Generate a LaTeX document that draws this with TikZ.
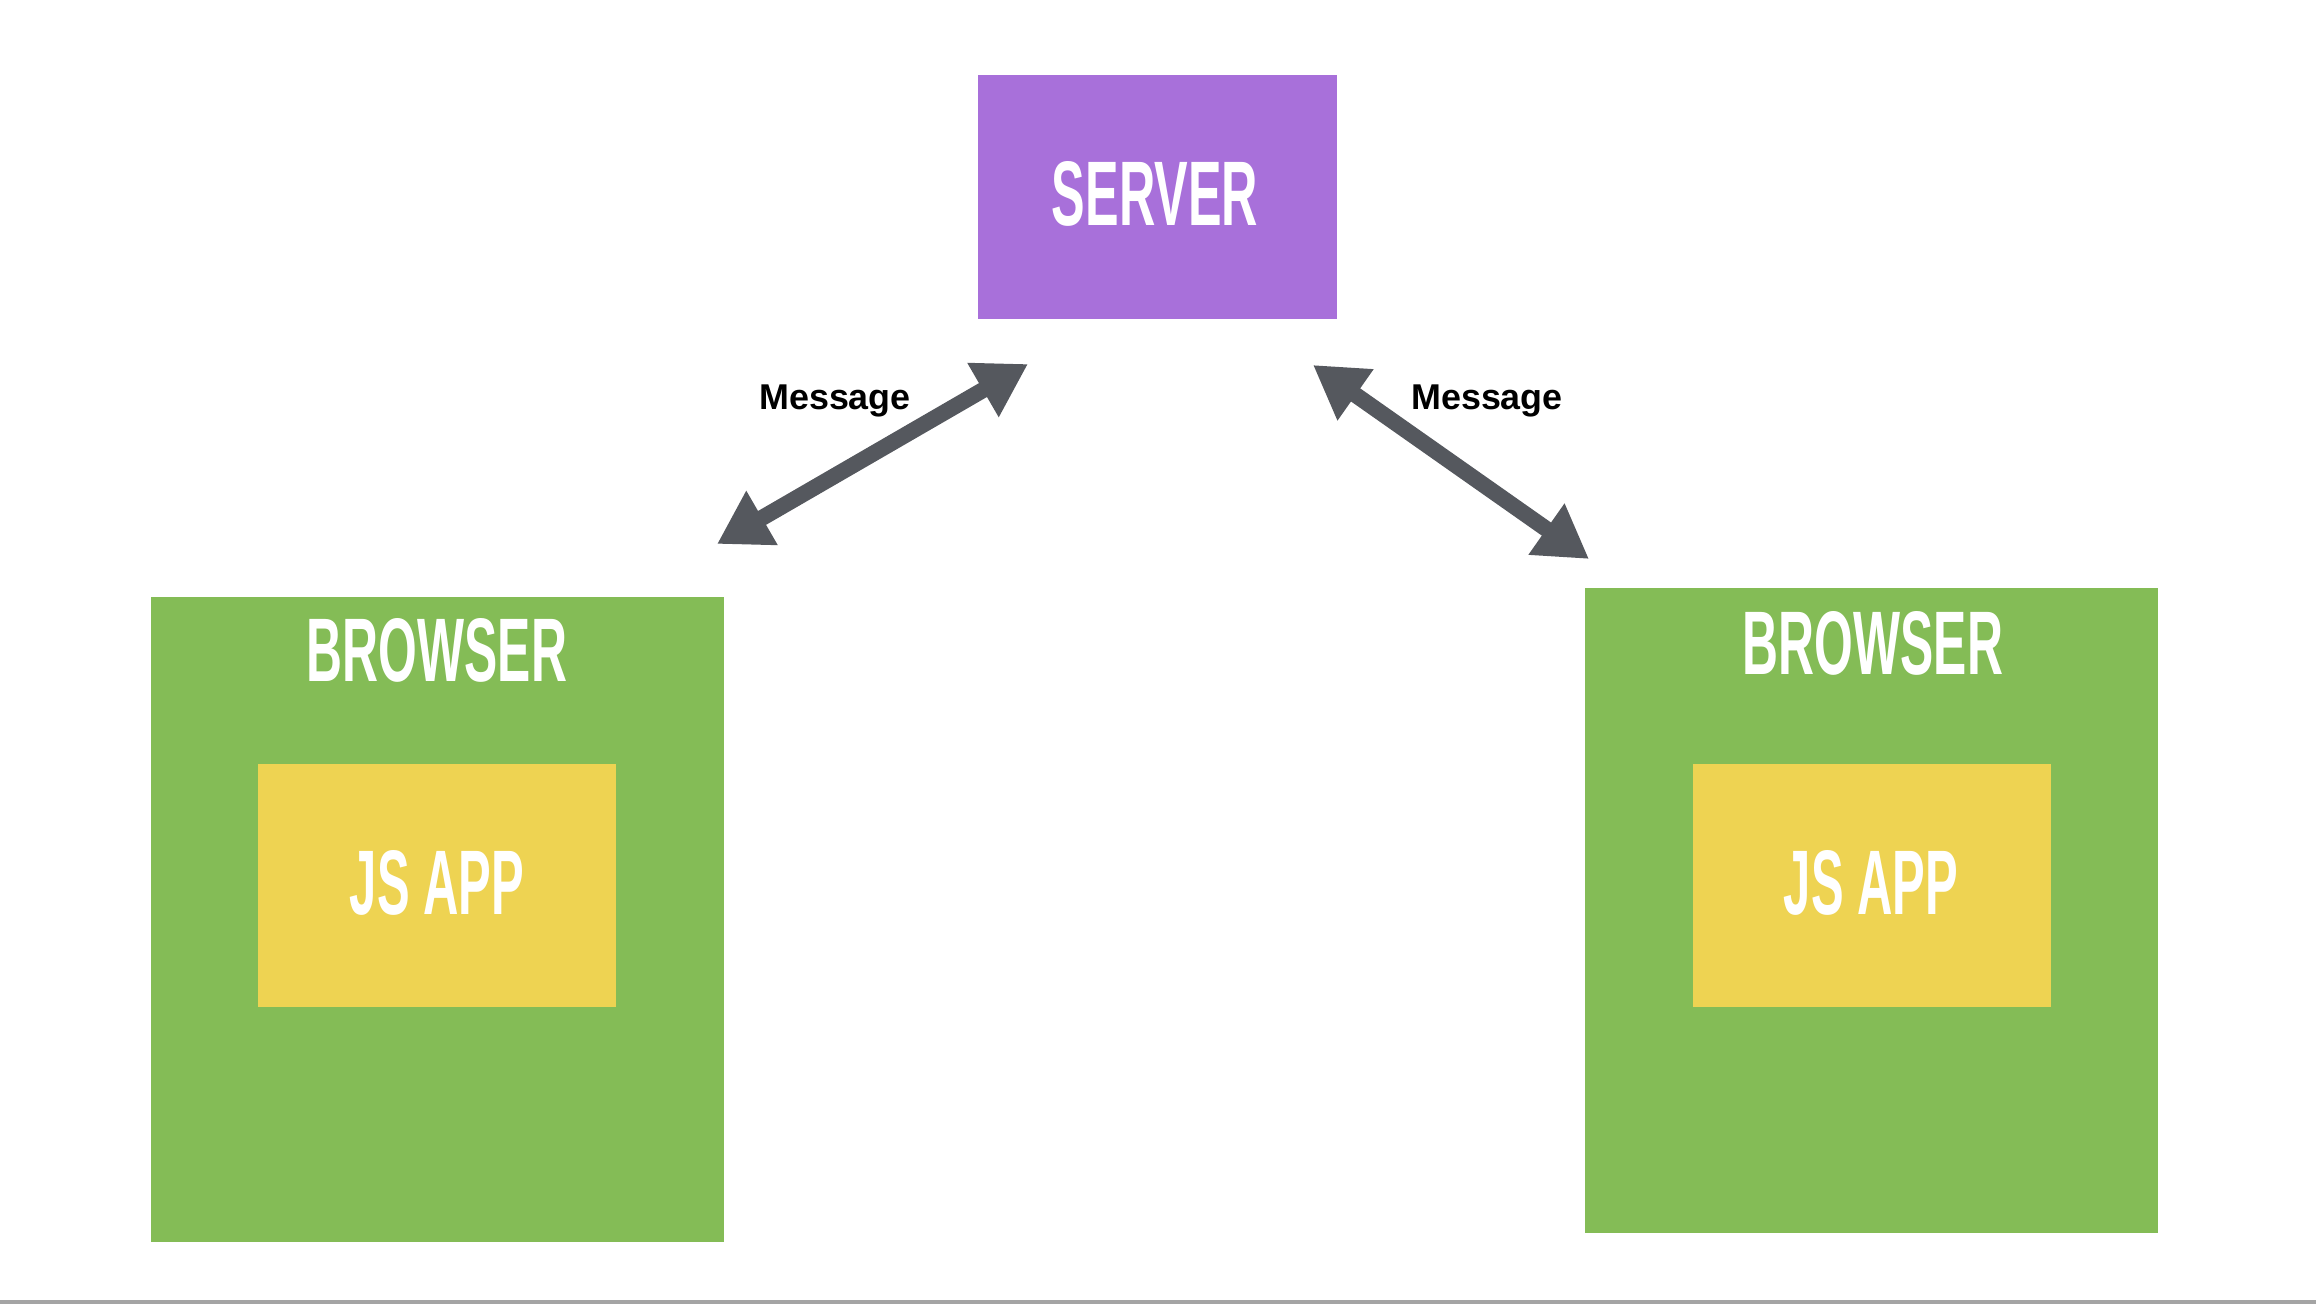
\documentclass[tikz,border=0pt]{standalone}
\usepackage{fontspec}
\usepackage{graphicx}
\newfontfamily\capsfont{Liberation Sans}
\newfontfamily\msgfont{Liberation Sans}
\usetikzlibrary{arrows.meta,positioning}

\definecolor{serverpurple}{HTML}{A870DA}
\definecolor{browsergreen}{HTML}{84BC56}
\definecolor{appyellow}{HTML}{EED352}
\definecolor{arrowgray}{HTML}{55585E}
\definecolor{rulegray}{HTML}{A4A4A4}

% fit a caps label into a given width and cap height
\newcommand{\capsfit}[3]{\resizebox{#1}{#2}{\capsfont\bfseries #3}}

\begin{document}
\begin{tikzpicture}[x=0.01cm,y=-0.01cm,
  box/.style={draw=none,inner sep=0pt,outer sep=0pt},
  title/.style={inner sep=0pt,outer sep=0pt,anchor=base,text=white},
  msglabel/.style={inner sep=0pt,anchor=base,font=\msgfont\bfseries\fontsize{10.2pt}{12pt}\selectfont},
  msgarrow/.style={draw=arrowgray,line width=0.16cm,
    {Triangle[length=0.52cm,width=0.59cm]}-{Triangle[length=0.52cm,width=0.59cm]}}]

  \useasboundingbox (0,0) rectangle (2316,1304);

  % The server on top
  \node[box,fill=serverpurple,minimum width=3.59cm,minimum height=2.44cm] (server) at (1157.5,197) {};
  \node[title] (servertext) at (1155,226) {\capsfit{2.06cm}{0.64cm}{SERVER}};

  % Left browser with its app
  \node[box,fill=browsergreen,minimum width=5.73cm,minimum height=6.45cm] (browserL) at (437.5,919.5) {};
  \node[title] (browserLtext) at (437,682) {\capsfit{2.6cm}{0.63cm}{BROWSER}};
  \node[box,fill=appyellow,minimum width=3.58cm,minimum height=2.43cm] (appL) at (437,885.5) {};
  \node[title] (appLtext) at (437,914) {\capsfit{1.74cm}{0.64cm}{JS APP}};

  % Right browser with its app
  \node[box,fill=browsergreen,minimum width=5.73cm,minimum height=6.45cm] (browserR) at (1871.5,910.5) {};
  \node[title] (browserRtext) at (1873,675) {\capsfit{2.6cm}{0.63cm}{BROWSER}};
  \node[box,fill=appyellow,minimum width=3.58cm,minimum height=2.43cm] (appR) at (1872,885.5) {};
  \node[title] (appRtext) at (1871,914) {\capsfit{1.74cm}{0.64cm}{JS APP}};

  % Message arrows
  \coordinate (msgLa) at (717,544);
  \coordinate (msgLb) at (1028,364);
  \coordinate (msgRa) at (1313,365);
  \coordinate (msgRb) at (1589,559);
  \draw[msgarrow] (msgLa) -- (msgLb);
  \draw[msgarrow] (msgRa) -- (msgRb);
  \node[msglabel] (msgLtext) at (835,410) {Message};
  \node[msglabel] (msgRtext) at (1487,410) {Message};

  % Rule along the bottom edge
  \fill[rulegray] (0,1300) rectangle (2316,1304);

\end{tikzpicture}
\end{document}
